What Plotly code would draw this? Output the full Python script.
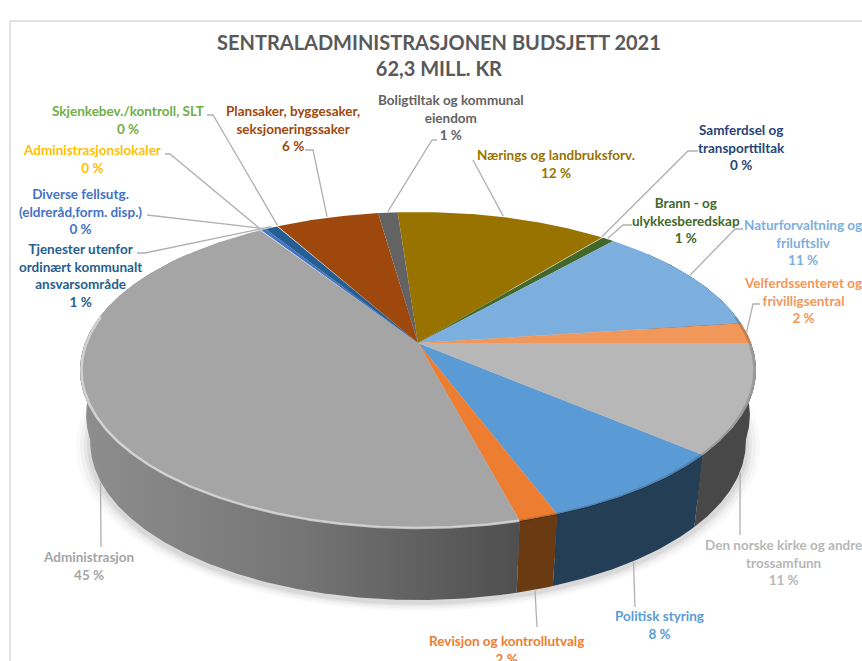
import math
import plotly.graph_objects as go

# ---------- data (clockwise, starting at the first series) ----------
categories = ["Politisk styring", "Revisjon og kontrollutvalg", "Administrasjon",
              "Administrasjonslokaler", "Diverse fellsutg.<br>(eldreråd,form. disp.)",
              "Tjenester utenfor<br>ordinært kommunalt<br>ansvarsområde",
              "Skjenkebev./kontroll, SLT",
              "Plansaker, byggesaker,<br>seksjoneringssaker",
              "Boligtiltak og kommunal<br>eiendom", "Nærings og landbruksforv.",
              "Samferdsel og<br>transporttiltak", "Brann - og<br>ulykkesberedskap",
              "Naturforvaltning og<br>friluftsliv", "Velferdssenteret og<br>frivilligsentral",
              "Den norske kirke og andre<br>trossamfunn"]
values = [8.05, 1.6, 45.0, 0.05, 0.28, 0.7, 0.05, 5.8, 1.1, 11.9, 0.05, 0.7, 11.4, 2.1, 11.25]
shown_pct = [8, 2, 45, 0, 0, 1, 0, 6, 1, 12, 0, 1, 11, 2, 11]
colors = ["#5B9BD5", "#ED7D31", "#A5A5A5", "#FFC000", "#4472C4", "#255E91", "#70AD47",
          "#9E480E", "#636363", "#997300", "#264478", "#43682B", "#7CAFDD", "#F1975A", "#B7B7B7"]
side_colors = ["#243E55", "#6A3A12", None, "#7a6000", "#2a4a80", "#163a5c", "#466e2c",
               "#5f2b08", "#3c3c3c", "#5c4500", "#172a48", "#28401a", "#4a6a88", "#91603a", "#484848"]
title_lines = ["SENTRALADMINISTRASJONEN BUDSJETT 2021", "62,3 MILL. KR"]

# ---------- layout (pixels of the 862x661 page) ----------
W, H = 862, 661
CX, CY = 418, 343
R_TOP, R_MID, R_BOT = 333, 327, 323
B, K = 153.4, 0.171
DEPTH, DEPTH_MID = 72, 45
START_DEG = 40.5          # clockwise from east, first series starts here

label_xy = [(659, 625), (506, 650), (88, 566), (92, 159), (80, 211), (80, 275), (128, 120),
            (293, 128), (451, 117), (556, 164), (741, 147), (686, 220), (803, 242),
            (803, 300), (783, 562)]
leader_elbows = [[(635, 607)], [(537, 627)], [(101, 547)], [(170, 154), (165, 154)],
                 [(150, 215), (147, 215)], [(145, 253), (137, 253)], [(213, 115), (207, 115)],
                 [(313, 150), (305, 150)], [(432, 140), (437, 140)], [(473, 160)],
                 [(688, 151), (698, 151)], [(623, 225), (632, 225)], [(735, 229), (743, 229)],
                 [(753, 304), (760, 304)], [(740, 535)]]


def project(deg, radius, dy=0.0, grow=0.0):
    t = math.radians(deg)
    w = 1 - K * math.sin(t)
    return (CX + (radius + grow) * math.cos(t) / w,
            CY + (B + grow * B / R_TOP) * math.sin(t) / w + dy)


def arc(a, b, radius, dy=0.0, grow=0.0):
    n = max(2, int(abs(b - a) * 2) + 1)
    pts = [project(a + (b - a) * i / (n - 1), radius, dy, grow) for i in range(n)]
    return [p[0] for p in pts], [p[1] for p in pts]


total = sum(values)
spans = []
cursor = START_DEG
for v in values:
    end = cursor + v / total * 360
    spans.append((cursor, end))
    cursor = end

fig = go.Figure()


def poly(xs, ys, color, **kw):
    fig.add_trace(go.Scatter(x=xs, y=ys, mode="lines", fill="toself", fillcolor=color,
                             line=dict(width=0, color=color), hoverinfo="skip",
                             showlegend=False, **kw))


# soft drop shadow under the disc
for grow, alpha in [(14, 0.04), (10, 0.05), (6, 0.07), (3, 0.09)]:
    xs, ys = arc(0, 360, R_BOT, DEPTH + 3, grow)
    poly(xs, ys, f"rgba(90,90,90,{alpha})")

# rim (only the part towards the viewer can show); the mid ring gives the bulged edge
VIS_A, VIS_B = -40, 220
for i, (a0, a1) in enumerate(spans):
    for off in (-360, 0, 360):
        a, b = max(a0 + off, VIS_A), min(a1 + off, VIS_B)
        if b <= a:
            continue
        tx, ty = arc(a, b, R_TOP)
        for radius, drop in ((R_MID, DEPTH_MID), (R_BOT, DEPTH)):
            bx, by = arc(a, b, radius, drop)
            xs, ys = tx + bx[::-1], ty + by[::-1]
            if side_colors[i] is None:
                fig.add_trace(go.Scatter(
                    x=xs, y=ys, mode="lines", fill="toself", line=dict(width=0),
                    fillgradient=dict(type="horizontal",
                                      colorscale=[[0, "#8E8E8E"], [0.5, "#757575"],
                                                  [0.8, "#5E5E5E"], [1, "#4F4F4F"]]),
                    hoverinfo="skip", showlegend=False))
            else:
                poly(xs, ys, side_colors[i])

# top surface
for i, (a0, a1) in enumerate(spans):
    ax, ay = arc(a0, a1, R_TOP)
    poly([CX] + ax + [CX], [CY] + ay + [CY], colors[i])

# bevel along the near edge of the top
for i, (a0, a1) in enumerate(spans):
    for off in (-360, 0, 360):
        a, b = max(a0 + off, VIS_A + 30), min(a1 + off, VIS_B - 30)
        if b <= a:
            continue
        ex, ey = arc(a, b, R_TOP - 1.5, 0)
        bevel = "rgba(225,225,225,0.75)" if i == 2 else "rgba(20,20,20,0.18)"
        fig.add_trace(go.Scatter(x=ex, y=ey, mode="lines", line=dict(color=bevel, width=2.5),
                                 hoverinfo="skip", showlegend=False))

# leader lines start on the slice's outer edge, at its middle angle
for i, (a0, a1) in enumerate(spans):
    mid = (a0 + a1) / 2
    front = math.sin(math.radians(mid)) > 0
    sx, sy = project(mid, R_BOT if front else R_TOP, DEPTH + 1 if front else -1)
    xs = [sx] + [p[0] for p in leader_elbows[i]]
    ys = [sy] + [p[1] for p in leader_elbows[i]]
    fig.add_trace(go.Scatter(x=xs, y=ys, mode="lines", line=dict(color="#B0B0B0", width=1.3),
                             hoverinfo="skip", showlegend=False))

FONT = "Lato, Carlito, Calibri, sans-serif"
annotations = []
for i, name in enumerate(categories):
    x, y = label_xy[i]
    annotations.append(dict(x=x, y=y, xref="x", yref="y", showarrow=False, align="center",
                            text=f"<b>{name}<br>{shown_pct[i]} %</b>",
                            font=dict(family=FONT, size=13.5, color=colors[i])))
annotations.append(dict(x=439, y=55, xref="x", yref="y", showarrow=False, align="center",
                        text="<b>" + "<br>".join(title_lines) + "</b>",
                        font=dict(family=FONT, size=20, color="#595959")))

fig.update_layout(
    width=W, height=H, autosize=False, margin=dict(l=0, r=0, t=0, b=0),
    paper_bgcolor="white", plot_bgcolor="white", showlegend=False,
    xaxis=dict(range=[0, W], visible=False, fixedrange=True),
    yaxis=dict(range=[H, 0], visible=False, fixedrange=True),
    annotations=annotations,
    shapes=[dict(type="line", xref="x", yref="y", x0=10, x1=10, y0=21, y1=H,
                 line=dict(color="#D9D9D9", width=1.5)),
            dict(type="line", xref="x", yref="y", x0=10, x1=W, y0=21, y1=21,
                 line=dict(color="#D9D9D9", width=1.5))],
)
fig.write_html("out.html", config={"displayModeBar": False},
               post_script="document.body.style.margin='0';document.body.style.overflow='hidden';")
